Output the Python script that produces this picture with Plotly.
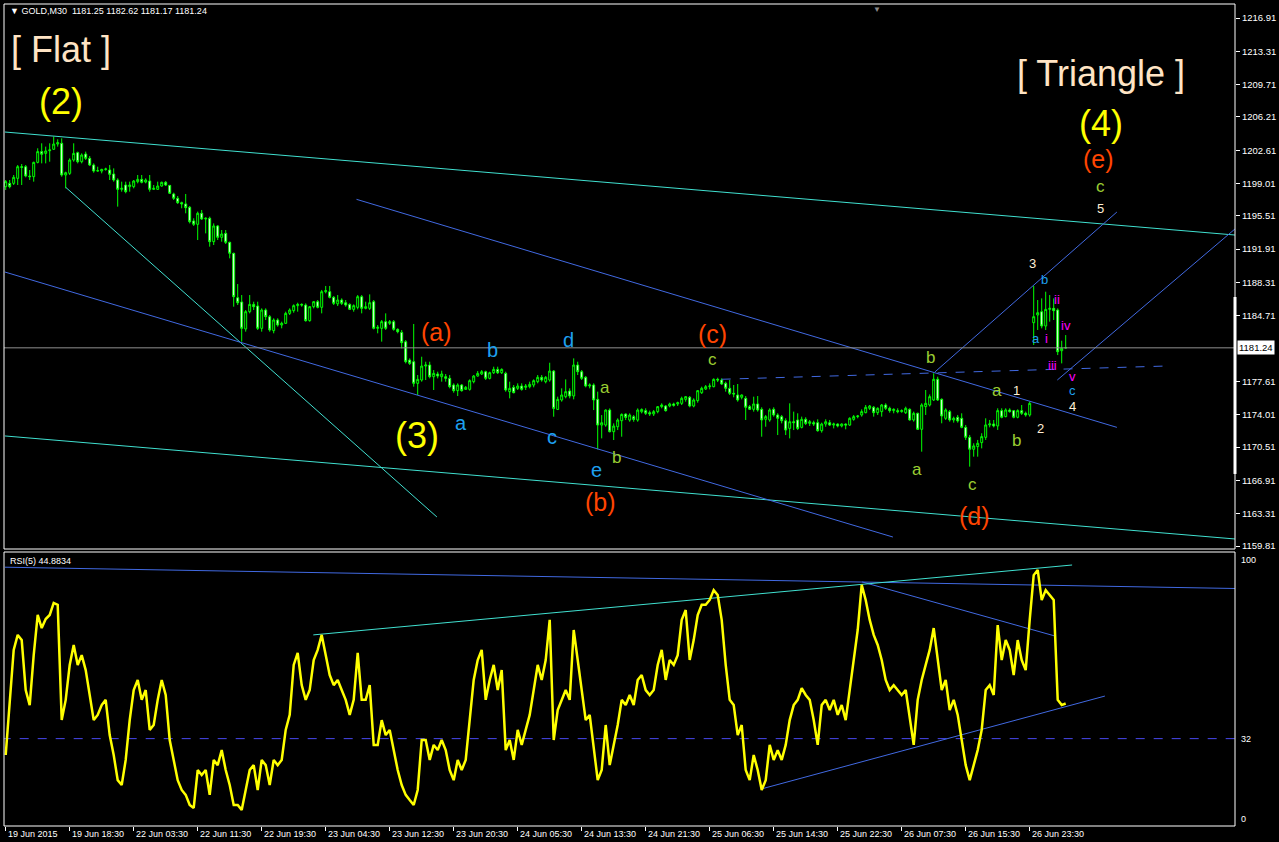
import plotly.graph_objects as go

# ---------------- data ----------------
bars = list(range(266))

opens = [1198.67,1199.03,1199.03,1199.57,1200.83,1200.83,1199.82,1199.75,1201.30,1202.46,
1202.27,1202.56,1202.71,1203.28,1203.36,1199.93,1200.11,1201.55,1202.35,1201.37,
1202.20,1201.73,1201.01,1200.36,1200.36,1200.54,1200.47,1200.04,1199.39,1198.38,
1198.85,1198.67,1198.67,1199.21,1199.46,1199.17,1199.28,1198.38,1198.38,1198.74,
1199.14,1198.81,1197.88,1197.41,1196.94,1196.80,1196.44,1194.96,1194.60,1195.79,
1195.17,1195.25,1192.72,1194.42,1193.19,1193.62,1192.65,1191.46,1186.66,1186.20,
1183.28,1185.15,1185.94,1185.76,1183.35,1185.33,1184.61,1183.10,1184.25,1183.71,
1183.89,1184.97,1185.26,1185.80,1185.94,1185.87,1184.18,1185.69,1186.23,1185.62,
1187.31,1187.31,1186.70,1186.00,1186.41,1186.12,1185.94,1185.40,1185.62,1186.77,
1185.51,1185.51,1186.23,1183.35,1183.35,1184.07,1183.89,1184.07,1183.24,1182.91,
1181.90,1179.92,1179.74,1177.40,1177.76,1179.27,1179.38,1178.12,1178.41,1178.12,
1178.12,1177.94,1177.22,1176.61,1177.22,1176.75,1176.75,1177.58,1178.19,1178.41,
1178.66,1177.94,1178.55,1178.91,1178.55,1178.48,1176.50,1176.97,1176.86,1177.11,
1176.97,1177.04,1177.22,1177.58,1178.05,1177.58,1177.76,1178.73,1174.58,1175.60,
1175.96,1176.57,1176.03,1179.38,1178.66,1178.05,1177.11,1177.22,1175.67,1172.89,
1172.89,1174.51,1172.17,1172.71,1173.36,1174.08,1173.43,1173.79,1173.43,1174.33,
1174.45,1174.23,1174.09,1174.34,1174.88,1174.95,1174.95,1175.17,1175.17,1175.24,
1175.67,1175.89,1174.95,1175.53,1176.39,1176.79,1177.04,1177.04,1177.83,1177.76,
1177.40,1176.86,1176.32,1176.14,1175.89,1175.78,1174.88,1174.59,1175.17,1174.59,
1173.51,1173.44,1174.59,1173.98,1173.80,1173.36,1172.53,1173.25,1173.44,1172.64,
1173.51,1173.07,1173.15,1173.15,1172.28,1173.00,1173.15,1172.89,1173.00,1172.79,
1173.00,1172.89,1173.51,1173.80,1173.98,1174.23,1174.70,1174.81,1174.23,1174.34,
1175.06,1174.70,1174.45,1174.45,1174.34,1174.23,1174.59,1173.44,1174.16,1172.43,
1174.88,1175.06,1175.60,1177.84,1175.67,1173.62,1174.34,1173.44,1173.73,1173.62,
1172.64,1171.56,1170.27,1170.56,1170.99,1171.56,1172.90,1173.01,1172.79,1174.45,
1173.80,1174.52,1174.45,1173.73,1174.45,1174.16,1173.98,1183.96,1184.79,1185.15,
1183.60,1185.40,1185.51,1185.33,1180.93,1181.25]

highs = [1199.39,1199.39,1199.93,1201.01,1201.12,1201.01,1200.47,1201.37,1202.82,1203.36,
1203.00,1203.36,1204.08,1203.79,1203.90,1200.29,1201.73,1203.36,1202.46,1202.27,
1202.46,1201.99,1201.19,1200.83,1200.60,1200.72,1201.01,1200.65,1199.57,1199.21,
1199.21,1199.21,1199.39,1199.93,1199.93,1199.57,1199.93,1198.85,1199.21,1199.21,
1199.28,1198.85,1198.02,1197.66,1197.05,1197.88,1196.58,1195.25,1195.97,1196.15,
1195.35,1195.43,1194.70,1194.52,1193.98,1193.98,1192.72,1191.53,1188.14,1186.95,
1185.33,1186.95,1186.23,1186.23,1185.51,1185.51,1184.79,1184.43,1184.43,1184.07,
1185.15,1185.51,1185.94,1186.12,1186.05,1186.05,1185.76,1186.30,1186.41,1187.50,
1187.93,1187.93,1186.84,1186.95,1186.59,1186.41,1186.05,1185.94,1186.95,1186.95,
1186.23,1187.02,1186.41,1183.71,1184.25,1184.97,1184.25,1184.25,1183.35,1183.17,
1182.08,1180.10,1183.82,1178.30,1180.28,1179.74,1179.74,1178.84,1178.66,1178.77,
1178.41,1178.30,1177.40,1177.40,1177.33,1177.11,1177.83,1178.30,1178.73,1178.84,
1178.77,1178.66,1179.20,1179.20,1179.02,1178.66,1177.58,1177.22,1177.40,1177.40,
1177.33,1177.58,1177.83,1178.30,1178.30,1178.19,1179.63,1178.84,1175.96,1176.86,
1177.83,1176.86,1180.10,1179.74,1178.84,1178.19,1177.40,1177.40,1176.50,1173.97,
1174.58,1174.69,1173.07,1173.61,1174.15,1174.15,1174.15,1173.97,1174.69,1174.69,
1174.70,1174.45,1174.52,1174.95,1175.24,1175.06,1175.31,1175.31,1175.42,1175.96,
1176.03,1176.03,1175.78,1176.68,1177.04,1177.22,1177.40,1177.94,1178.01,1177.94,
1177.58,1177.76,1177.22,1177.33,1176.20,1176.03,1175.06,1175.96,1176.03,1174.81,
1173.98,1174.70,1174.81,1174.16,1173.98,1173.62,1175.24,1174.34,1174.16,1173.80,
1173.73,1173.44,1173.36,1173.51,1173.15,1173.51,1173.44,1173.15,1173.07,1173.07,
1173.07,1173.73,1173.98,1173.98,1174.59,1175.06,1175.06,1174.95,1174.81,1175.17,
1175.24,1174.88,1174.70,1174.70,1174.59,1174.88,1174.70,1174.34,1174.23,1175.24,
1176.68,1176.20,1178.49,1178.12,1175.78,1174.70,1174.52,1173.80,1173.98,1174.16,
1172.90,1171.82,1170.92,1171.28,1172.00,1173.62,1173.44,1173.44,1174.70,1174.70,
1174.70,1174.70,1174.52,1174.59,1175.06,1174.34,1175.42,1187.93,1186.41,1186.59,
1187.31,1186.95,1186.59,1185.51,1182.01,1182.62]

lows = [1198.31,1198.49,1198.85,1198.85,1198.85,1199.68,1199.39,1199.21,1201.19,1201.19,
1201.19,1201.37,1202.64,1203.00,1199.75,1198.49,1199.93,1201.37,1201.19,1201.19,
1201.55,1200.90,1200.18,1200.29,1200.11,1200.40,1199.39,1199.21,1196.51,1198.13,
1197.95,1198.13,1198.49,1199.03,1199.03,1199.03,1198.13,1198.31,1198.31,1198.67,
1198.74,1197.88,1197.23,1196.80,1196.33,1195.79,1194.70,1194.42,1192.90,1195.07,
1193.62,1192.18,1192.36,1192.90,1192.72,1192.47,1190.92,1185.69,1185.87,1181.91,
1182.99,1184.97,1185.33,1183.17,1182.99,1184.25,1182.99,1182.81,1183.53,1183.35,
1183.82,1184.79,1185.04,1185.15,1185.69,1184.07,1184.07,1185.51,1185.51,1184.97,
1187.13,1186.59,1185.87,1185.76,1185.87,1185.69,1185.33,1185.15,1185.40,1184.97,
1185.40,1185.33,1183.24,1182.81,1181.91,1183.17,1183.71,1183.10,1182.81,1181.18,
1179.56,1179.38,1177.04,1176.14,1177.58,1177.76,1177.94,1176.68,1177.94,1177.58,
1177.58,1176.86,1176.39,1176.03,1176.50,1176.68,1176.61,1177.40,1178.12,1178.30,
1177.76,1177.83,1178.41,1178.41,1178.41,1176.50,1175.78,1176.32,1176.68,1176.61,
1176.68,1176.86,1176.97,1177.40,1177.58,1177.40,1177.58,1173.79,1174.51,1175.42,
1175.78,1175.78,1175.67,1178.30,1177.76,1176.97,1176.86,1174.51,1170.26,1171.45,
1172.71,1172.10,1171.27,1172.35,1171.63,1173.43,1173.25,1173.25,1173.25,1174.15,
1173.98,1173.87,1173.87,1174.16,1174.70,1174.34,1174.81,1174.88,1174.95,1175.06,
1175.42,1174.81,1174.81,1175.31,1176.25,1176.68,1176.75,1176.97,1177.54,1177.22,
1176.50,1176.14,1175.89,1175.42,1175.67,1173.44,1174.52,1174.34,1174.34,1171.63,
1172.71,1173.25,1173.80,1171.81,1173.07,1171.81,1171.45,1172.35,1172.35,1172.53,
1172.89,1172.79,1172.79,1172.17,1172.07,1172.71,1172.79,1172.53,1172.64,1172.64,
1172.43,1172.79,1173.36,1173.62,1173.80,1174.16,1174.52,1173.80,1173.98,1173.80,
1174.52,1174.23,1174.16,1174.16,1174.23,1174.09,1173.37,1173.26,1172.36,1170.01,
1173.98,1174.90,1175.50,1175.50,1173.08,1173.44,1173.26,1173.15,1173.15,1172.54,
1171.28,1168.39,1169.47,1169.47,1170.37,1171.28,1172.64,1172.64,1172.36,1173.62,
1173.73,1174.23,1173.62,1173.62,1173.98,1173.80,1173.80,1181.55,1183.17,1183.35,
1183.17,1184.07,1184.25,1180.46,1179.56,1181.17]

closes = [1199.21,1198.67,1199.68,1200.83,1200.76,1199.82,1199.75,1201.30,1202.46,1202.17,
1202.53,1202.64,1203.28,1203.43,1199.93,1200.18,1201.55,1202.27,1201.37,1202.09,
1201.73,1201.01,1200.36,1200.40,1200.54,1200.58,1200.00,1199.39,1198.38,1198.49,
1198.13,1198.85,1199.28,1199.46,1199.14,1199.39,1198.38,1198.49,1198.74,1199.14,
1198.85,1197.95,1197.41,1196.94,1196.80,1196.40,1194.88,1194.60,1195.79,1195.17,
1195.25,1192.72,1194.42,1193.19,1193.55,1192.65,1191.46,1186.77,1186.12,1183.35,
1185.15,1185.94,1185.69,1183.35,1185.33,1184.61,1183.17,1184.25,1183.71,1183.89,
1184.97,1185.33,1185.80,1185.94,1185.87,1184.18,1185.69,1186.23,1185.62,1187.31,
1187.42,1186.70,1186.05,1186.41,1186.05,1185.87,1185.40,1185.80,1186.77,1185.51,
1185.69,1186.12,1183.35,1183.46,1184.07,1183.35,1184.07,1183.24,1182.99,1181.80,
1179.74,1179.56,1177.40,1177.83,1179.27,1179.38,1178.12,1178.48,1178.19,1178.41,
1177.94,1177.04,1176.61,1177.22,1176.61,1176.97,1177.69,1178.19,1178.48,1178.66,
1177.94,1178.55,1178.91,1178.55,1178.91,1176.68,1176.86,1176.39,1177.11,1176.75,
1177.11,1177.29,1177.69,1178.05,1177.76,1178.05,1178.73,1174.69,1175.67,1176.14,
1176.50,1176.03,1179.38,1178.66,1177.94,1177.11,1177.22,1175.60,1172.89,1173.14,
1174.51,1172.17,1172.78,1173.43,1174.04,1173.72,1173.97,1173.50,1174.51,1174.58,
1174.16,1174.09,1174.34,1174.88,1175.06,1174.45,1175.17,1175.02,1175.31,1175.78,
1175.96,1174.95,1175.60,1176.61,1176.86,1177.04,1177.11,1177.83,1177.76,1177.33,
1176.86,1176.32,1176.25,1175.60,1176.14,1174.81,1174.59,1175.17,1174.52,1173.44,
1173.80,1174.52,1173.98,1173.62,1173.36,1172.35,1173.25,1173.15,1172.53,1173.51,
1173.07,1173.25,1173.00,1172.28,1173.00,1173.25,1172.89,1173.00,1172.79,1173.00,
1172.89,1173.62,1173.80,1173.87,1174.34,1174.81,1174.95,1174.23,1174.70,1175.06,
1174.70,1174.45,1174.59,1174.34,1174.45,1174.70,1173.44,1174.16,1172.43,1175.06,
1175.24,1175.96,1177.84,1175.60,1173.87,1174.52,1173.44,1173.62,1173.33,1172.64,
1171.56,1170.27,1170.63,1170.92,1171.64,1172.90,1173.01,1172.79,1174.45,1173.73,
1174.52,1174.34,1173.73,1174.45,1174.16,1173.98,1175.24,1184.61,1185.04,1183.60,
1185.40,1185.51,1185.26,1180.82,1181.19,1181.24]

rsi_values = [26.0,46.2,64.5,70.0,68.1,49.8,44.3,62.6,77.3,72.5,
75.8,77.3,81.7,81.0,38.8,46.2,59.0,66.3,59.0,62.6,
57.1,48.0,38.8,40.7,44.3,46.2,33.3,26.0,16.8,15.0,
24.2,38.8,49.8,53.5,46.2,49.8,35.2,37.0,46.2,53.5,
48.0,31.5,24.2,16.8,13.2,11.4,7.7,6.6,20.5,18.7,
20.5,11.4,24.2,22.3,27.8,20.5,15.0,7.7,7.7,5.9,
13.2,20.5,22.3,13.2,24.2,22.3,15.0,24.2,22.3,24.2,
35.2,40.7,59.0,63.4,51.6,46.2,49.8,60.8,64.5,70.0,
62.6,55.3,51.6,53.5,49.8,46.2,40.7,46.2,63.4,46.2,
46.2,51.6,29.7,29.7,38.8,33.3,35.2,27.8,20.5,15.0,
11.4,9.5,7.7,13.2,31.5,31.5,24.2,29.7,27.8,31.5,
27.8,20.5,16.8,24.2,20.5,24.2,38.8,53.5,60.8,64.5,
46.2,53.5,59.0,49.8,57.1,27.8,31.5,24.2,35.2,29.7,
35.2,40.7,49.8,59.0,53.5,60.8,75.5,31.5,42.5,46.2,
49.8,46.2,71.8,60.8,49.8,38.8,40.7,27.8,16.8,20.5,
37.0,22.3,29.7,37.0,46.2,44.3,48.0,44.3,53.5,55.3,
49.8,48.0,49.8,59.0,64.5,53.5,60.8,59.0,62.6,75.5,
79.1,60.8,68.1,77.3,81.0,81.0,82.8,86.4,84.6,75.5,
59.0,46.2,44.3,33.3,37.0,20.5,16.8,26.0,20.5,13.2,
16.8,29.7,24.2,27.8,24.2,29.7,38.8,44.3,46.2,50.5,
48.0,46.2,38.8,29.7,44.3,46.2,42.5,46.2,40.7,44.3,
38.8,49.8,60.8,71.8,88.3,82.8,75.5,70.0,66.3,60.8,
53.5,49.8,51.6,49.8,48.0,49.8,38.8,29.7,46.2,53.5,
59.0,64.5,72.5,60.8,49.8,53.5,42.5,46.2,40.7,31.5,
22.3,16.8,22.3,27.8,35.2,49.8,51.6,48.0,73.6,60.8,
68.1,64.5,55.3,68.1,60.8,57.1,75.5,91.9,93.8,82.8,
86.4,84.6,82.8,46.2,44.3,44.8834]

time_tick_bars = [0, 16, 32, 48, 64, 80, 96, 112, 128, 144, 160, 176, 192, 208, 224, 240, 256]
time_tick_labels = ["19 Jun 2015", "19 Jun 18:30", "22 Jun 03:30", "22 Jun 11:30", "22 Jun 19:30",
                    "23 Jun 04:30", "23 Jun 12:30", "23 Jun 20:30", "24 Jun 05:30", "24 Jun 13:30",
                    "24 Jun 21:30", "25 Jun 06:30", "25 Jun 14:30", "25 Jun 22:30", "26 Jun 07:30",
                    "26 Jun 15:30", "26 Jun 23:30"]
price_tick_values = [1216.91, 1213.31, 1209.71, 1206.21, 1202.61, 1199.01, 1195.51, 1191.91,
                     1188.31, 1184.71, 1177.61, 1174.01, 1170.51, 1166.91, 1163.31, 1159.81]
last_price = 1181.24
symbol_name = "GOLD,M30"
rsi_period = 5
rsi_level = 32
visible_price_band = [1167.60, 1186.74]

# trend lines: [bar0, value0, bar1, value1]
price_lines_cyan = [[-0.2, 1204.58, 307.3, 1193.44],
                    [-0.2, 1171.71, 307.3, 1160.57],
                    [15.0, 1198.60, 107.8, 1162.95]]
price_lines_blue = [[-0.2, 1189.44, 221.8, 1160.78],
                    [87.7, 1197.30, 277.8, 1172.64],
                    [232.3, 1178.63, 277.8, 1195.93],
                    [262.9, 1177.76, 307.3, 1194.09]]
price_lines_blue_dashed = [[179.0, 1177.84, 289.8, 1179.27]]
rsi_lines_blue = [[-0.2, 94.8, 307.3, 87.0],
                  [214.1, 89.4, 262.3, 69.6],
                  [189.0, 13.6, 274.8, 47.6]]
rsi_lines_cyan = [[76.9, 70.0, 266.6, 95.6]]

# wave labels: (bar, price, text, role)
wave_labels = [
    (13.8, 1213.50, "[ Flat ]", "title"),
    (13.8, 1207.93, "(2)", "major"),
    (273.8, 1210.96, "[ Triangle ]", "title"),
    (273.8, 1205.55, "(4)", "major"),
    (102.8, 1171.71, "(3)", "major"),
    (273.1, 1201.66, "(e)", "inter"),
    (107.8, 1182.95, "(a)", "inter"),
    (148.8, 1164.57, "(b)", "inter"),
    (176.6, 1182.74, "(c)", "inter"),
    (242.3, 1163.05, "(d)", "inter"),
    (121.8, 1181.01, "b", "minor_blue"),
    (140.6, 1182.09, "d", "minor_blue"),
    (113.8, 1173.11, "a", "minor_blue"),
    (136.6, 1171.60, "c", "minor_blue"),
    (147.8, 1168.03, "e", "minor_blue"),
    (149.8, 1176.90, "a", "minor_green"),
    (152.8, 1169.33, "b", "minor_green"),
    (176.8, 1179.93, "c", "minor_green"),
    (227.8, 1168.03, "a", "minor_green"),
    (231.1, 1180.25, "b", "minor_green"),
    (241.6, 1166.51, "c", "minor_green"),
    (247.8, 1176.68, "a", "minor_green"),
    (252.8, 1171.27, "b", "minor_green"),
    (273.6, 1198.74, "c", "minor_green"),
    (252.8, 1176.68, "1", "num"),
    (258.8, 1172.57, "2", "num"),
    (256.8, 1190.31, "3", "num"),
    (266.8, 1174.95, "4", "num"),
    (273.6, 1196.26, "5", "num"),
    (259.8, 1188.58, "b", "tiny_blue"),
    (257.6, 1182.20, "a", "tiny_blue"),
    (266.8, 1176.68, "c", "tiny_blue"),
    (260.1, 1182.30, "i", "tiny_mag"),
    (262.8, 1186.52, "ii", "tiny_mag"),
    (261.8, 1179.28, "iii", "tiny_mag"),
    (265.1, 1183.71, "iv", "tiny_mag"),
    (266.8, 1178.09, "v", "tiny_mag"),
]

# ---------------- styles ----------------
FONT = "Liberation Sans, Arial, sans-serif"
CYAN = "#40E0D0"
BLUE = "#4169E1"
LIME = "#00FF00"
label_styles = {
    "title": ("#FFE4C4", 36),
    "major": ("#FFFF00", 36),
    "inter": ("#FF4500", 25),
    "minor_blue": ("#1EA0F0", 20),
    "minor_green": ("#9ACD32", 17),
    "num": ("#FFEFD5", 13),
    "tiny_blue": ("#1EA0F0", 13),
    "tiny_mag": ("#FF00FF", 13),
}

W, H = 1279, 842
L, R, T, B = 4, 1235, 4, 826  # plot area pixels


def px(xp):
    return (xp - L) / (R - L)


def py(yp):
    return (B - yp) / (B - T)


fig = go.Figure()

fig.add_trace(go.Candlestick(
    x=bars, open=opens, high=highs, low=lows, close=closes,
    increasing=dict(line=dict(color=LIME, width=1), fillcolor="#000000"),
    decreasing=dict(line=dict(color=LIME, width=1), fillcolor="#FFFFFF"),
    whiskerwidth=0, xaxis="x", yaxis="y", hoverinfo="skip"))


def add_lines(lines, color, axis_y, dash="solid", width=1):
    for b0, v0, b1, v1 in lines:
        fig.add_trace(go.Scatter(x=[b0, b1], y=[v0, v1], mode="lines",
                                 line=dict(color=color, width=width, dash=dash),
                                 xaxis="x" if axis_y == "y" else "x2", yaxis=axis_y,
                                 hoverinfo="skip"))


add_lines(price_lines_cyan, CYAN, "y")
add_lines(price_lines_blue, BLUE, "y")
add_lines(price_lines_blue_dashed, BLUE, "y", dash="dash")

# bid line
fig.add_trace(go.Scatter(x=[-1, 310], y=[last_price, last_price], mode="lines",
                         line=dict(color="#909090", width=1), xaxis="x", yaxis="y",
                         hoverinfo="skip"))

# RSI panel
fig.add_trace(go.Scatter(x=[-1, 310], y=[rsi_level, rsi_level], mode="lines",
                         line=dict(color="#4848F0", width=1, dash="dash"),
                         xaxis="x2", yaxis="y2", hoverinfo="skip"))
add_lines(rsi_lines_blue, BLUE, "y2")
add_lines(rsi_lines_cyan, CYAN, "y2")
fig.add_trace(go.Scatter(x=bars, y=rsi_values, mode="lines",
                         line=dict(color="#FFFF00", width=2.5),
                         xaxis="x2", yaxis="y2", hoverinfo="skip"))

x_range = [-0.425, -0.425 + (R - L) / 4.0]
annotations = []
for b, p, t, role in wave_labels:
    c, s = label_styles[role]
    annotations.append(dict(x=b, y=p, xref="x", yref="y", text=t, showarrow=False,
                            font=dict(family=FONT, size=s, color=c),
                            xanchor="center", yanchor="middle"))

small = dict(family=FONT, size=9, color="#FFFFFF")
annotations.append(dict(x=px(8), y=py(11), xref="paper", yref="paper",
                        text="\u25BC " + symbol_name + "  " +
                        " ".join(f"{v:.2f}" for v in [opens[-1], highs[-1], lows[-1], closes[-1]]),
                        showarrow=False, xanchor="left", yanchor="middle", font=small))
annotations.append(dict(x=px(8), y=py(561), xref="paper", yref="paper",
                        text=f"RSI({rsi_period}) {rsi_values[-1]:.4f}",
                        showarrow=False, xanchor="left", yanchor="middle", font=small))
for tb, tl in zip(time_tick_bars, time_tick_labels):
    annotations.append(dict(x=tb, y=0, xref="x2", yref="paper", text=tl, showarrow=False,
                            xanchor="left", yanchor="top", xshift=0, yshift=-1, font=small))
# RSI scale labels
for val, anchor in [(100, "top"), (rsi_level, "middle"), (0, "bottom")]:
    annotations.append(dict(x=1, y=val, xref="paper", yref="y2", text=str(val), showarrow=False,
                            xanchor="left", yanchor=anchor, xshift=4, font=small))
# current price box
annotations.append(dict(x=1, y=last_price, xref="paper", yref="y", text=f"{last_price:.2f}",
                        showarrow=False, xanchor="left", yanchor="middle", xshift=2,
                        bgcolor="#FFFFFF", borderpad=1,
                        font=dict(family=FONT, size=9.5, color="#000000")))
# chart shift marker
annotations.append(dict(x=px(877), y=1, xref="paper", yref="paper", text="\u25BC",
                        showarrow=False, xanchor="center", yanchor="top", yshift=1,
                        font=dict(family=FONT, size=8, color="#8A8A8A")))

shapes = [
    dict(type="rect", xref="paper", yref="paper", x0=0, x1=1, y0=py(549), y1=1,
         line=dict(color="#FFFFFF", width=1)),
    dict(type="rect", xref="paper", yref="paper", x0=0, x1=1, y0=0, y1=py(552),
         line=dict(color="#FFFFFF", width=1)),
    dict(type="line", xref="paper", yref="y", x0=1, x1=1,
         y0=visible_price_band[0], y1=visible_price_band[1],
         line=dict(color="#FFFFFF", width=3)),
]

fig.update_layout(
    width=W, height=H,
    margin=dict(l=L, r=W - R, t=T, b=H - B),
    paper_bgcolor="#000000", plot_bgcolor="#000000",
    showlegend=False, hovermode=False, dragmode=False,
    annotations=annotations, shapes=shapes,
    xaxis=dict(domain=[0, 1], range=x_range, anchor="y", showticklabels=False,
               showgrid=False, zeroline=False, showline=False, ticks="",
               rangeslider=dict(visible=False), fixedrange=True),
    xaxis2=dict(domain=[0, 1], range=x_range, anchor="y2", matches="x",
                showgrid=False, zeroline=False, showline=False,
                tickmode="array", tickvals=time_tick_bars, ticktext=[""] * len(time_tick_bars),
                ticks="outside", ticklen=4, tickcolor="#FFFFFF", tickwidth=1,
                showticklabels=False, fixedrange=True),
    yaxis=dict(domain=[py(549), 1], range=[1216.91 - 531 / 9.247, 1216.91 + 14 / 9.247],
               autorange=False, side="right", anchor="x", showgrid=False, zeroline=False,
               showline=False, tickmode="array", tickvals=price_tick_values,
               ticktext=[f"{v:.2f}" for v in price_tick_values],
               ticks="outside", ticklen=4, tickcolor="#FFFFFF",
               tickfont=dict(family=FONT, size=9.5, color="#FFFFFF"),
               automargin=False, fixedrange=True),
    yaxis2=dict(domain=[0, py(553)], range=[0, 100], anchor="x2", side="right",
                showgrid=False, zeroline=False, showline=False, showticklabels=False,
                ticks="", automargin=False, fixedrange=True),
)

fig.write_html("out.html", config=dict(staticPlot=True),
               post_script="document.body.style.margin='0';document.body.style.background='#000';")
